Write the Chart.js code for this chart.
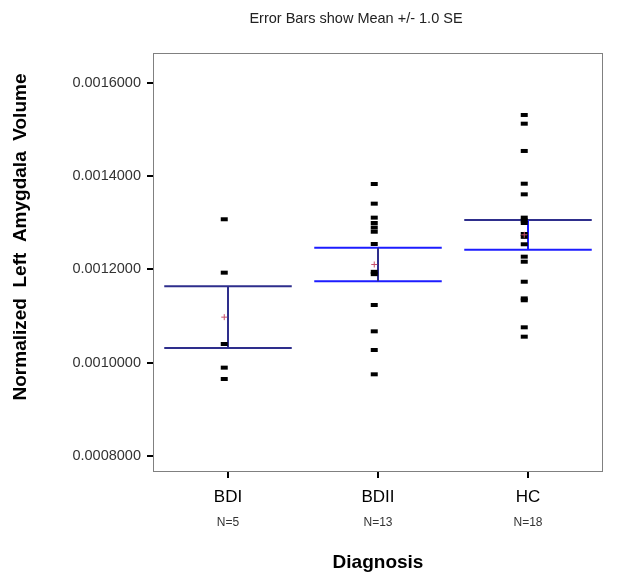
<!DOCTYPE html>
<html>
<head>
<meta charset="utf-8">
<script src="https://cdn.jsdelivr.net/npm/chart.js@4.4.1/dist/chart.umd.min.js"></script>
<style>
  body { margin: 0; background: #fff; }
  canvas { display: block; }
</style>
</head>
<body>
<canvas id="chart" width="618" height="588"></canvas>
<script>
// values
const categories = ['BDI', 'BDII', 'HC'];
const counts = ['N=5', 'N=13', 'N=18'];
const bdiValues = [0.0013077, 0.0011932, 0.0010402, 0.0009895, 0.0009651];
const bdiiValues = [0.0013834, 0.0013412, 0.0013112, 0.0012997, 0.0012900, 0.0012810, 0.0012547,
  0.0011950, 0.0011900, 0.0011239, 0.0010674, 0.0010273, 0.0009752];
const hcValues = [0.0015314, 0.0015127, 0.0014542, 0.0013840, 0.0013612, 0.0013112, 0.0013050,
  0.0012997, 0.0012761, 0.0012700, 0.0012541, 0.0012275, 0.0012167, 0.0011738, 0.0011380,
  0.0011340, 0.0010760, 0.0010559];
const groupMeans = [0.0010978, 0.0012107, 0.0012744];
const groupSE = [0.0000662, 0.0000361, 0.0000318];
const yTicks = [0.0008, 0.0010, 0.0012, 0.0014, 0.0016];

const navy = '#2e2e8c';
const blue = '#1c1cff';
const capColors = [[navy, navy], [blue, blue], [navy, blue]];
const stemColors = [navy, navy, blue];
const shift = -0.025; // dots sit a little left of the bar

const font = '"Liberation Sans", Arial, sans-serif';

const groups = [bdiValues, bdiiValues, hcValues];

const overlay = {
  id: 'overlay',
  beforeDatasetsDraw(chart) {
    const { ctx, chartArea: a, scales: { x, y } } = chart;
    ctx.save();
    ctx.strokeStyle = '#808080';
    ctx.lineWidth = 1;
    ctx.strokeRect(a.left + 0.5, a.top + 0.5, a.right - a.left - 1, a.bottom - a.top - 1);

    ctx.lineWidth = 2;
    groupMeans.forEach((m, i) => {
      const cx = x.getPixelForValue(i);
      const half = x.getPixelForValue(i + 0.425) - cx;
      const yt = y.getPixelForValue(m + groupSE[i]);
      const yb = y.getPixelForValue(m - groupSE[i]);
      ctx.strokeStyle = capColors[i][0];
      ctx.beginPath(); ctx.moveTo(cx - half, yt); ctx.lineTo(cx + half, yt); ctx.stroke();
      ctx.strokeStyle = capColors[i][1];
      ctx.beginPath(); ctx.moveTo(cx - half, yb); ctx.lineTo(cx + half, yb); ctx.stroke();
      ctx.strokeStyle = stemColors[i];
      ctx.beginPath(); ctx.moveTo(cx, yt); ctx.lineTo(cx, yb); ctx.stroke();
    });
    ctx.restore();
  },
  afterDraw(chart) {
    const { ctx, chartArea: a, scales: { x } } = chart;
    ctx.save();
    ctx.textAlign = 'center';
    ctx.textBaseline = 'middle';

    ctx.fillStyle = '#222';
    ctx.font = '14.5px ' + font;
    ctx.fillText('Error Bars show Mean +/- 1.0 SE', 356, 19);

    ctx.fillStyle = '#333';
    ctx.font = '12px ' + font;
    counts.forEach((c, i) => ctx.fillText(c, x.getPixelForValue(i), 523));

    ctx.fillStyle = '#000';
    ctx.font = 'bold 19px ' + font;
    ctx.fillText('Diagnosis', (a.left + a.right) / 2, 563);

    ctx.translate(21, 237);
    ctx.rotate(-Math.PI / 2);
    ctx.fillText('Normalized  Left  Amygdala  Volume', 0, 0);
    ctx.restore();
  }
};

const datasets = [{
  label: 'Mean',
  data: groupMeans.map((m, i) => ({ x: i + shift, y: m })),
  pointStyle: 'cross',
  radius: 3,
  borderColor: '#c8506a',
  borderWidth: 1
}];
groups.forEach((vals, i) => {
  datasets.push({
    label: categories[i],
    data: vals.map(v => ({ x: i + shift, y: v })),
    pointStyle: 'line',
    radius: 3.5,
    borderColor: '#000',
    borderWidth: 4
  });
});

new Chart(document.getElementById('chart'), {
  type: 'scatter',
  data: { datasets },
  options: {
    responsive: false,
    animation: false,
    events: [],
    layout: { padding: { top: 53, right: 15, left: 0, bottom: 0 } },
    plugins: { legend: { display: false }, tooltip: { enabled: false } },
    scales: {
      x: {
        type: 'linear',
        min: -0.5,
        max: 2.5,
        afterBuildTicks: s => { s.ticks = categories.map((c, i) => ({ value: i })); },
        afterFit: s => { s.height = 116; },
        grid: { drawOnChartArea: false, drawTicks: true, tickLength: 6, color: '#000', lineWidth: 2 },
        border: { display: false },
        ticks: {
          padding: 9,
          color: '#000',
          font: { family: font, size: 17 },
          callback: v => categories[v]
        }
      },
      y: {
        min: 0.0007657,
        max: 0.0016643,
        afterBuildTicks: s => { s.ticks = yTicks.map(v => ({ value: v })); },
        afterFit: s => { s.width = 153; },
        grid: { drawOnChartArea: false, drawTicks: true, tickLength: 6, color: '#000', lineWidth: 2 },
        border: { display: false },
        ticks: {
          padding: 6,
          color: '#333',
          font: { family: font, size: 14.5 },
          callback: v => v.toFixed(7)
        }
      }
    }
  },
  plugins: [overlay]
});
</script>
</body>
</html>
